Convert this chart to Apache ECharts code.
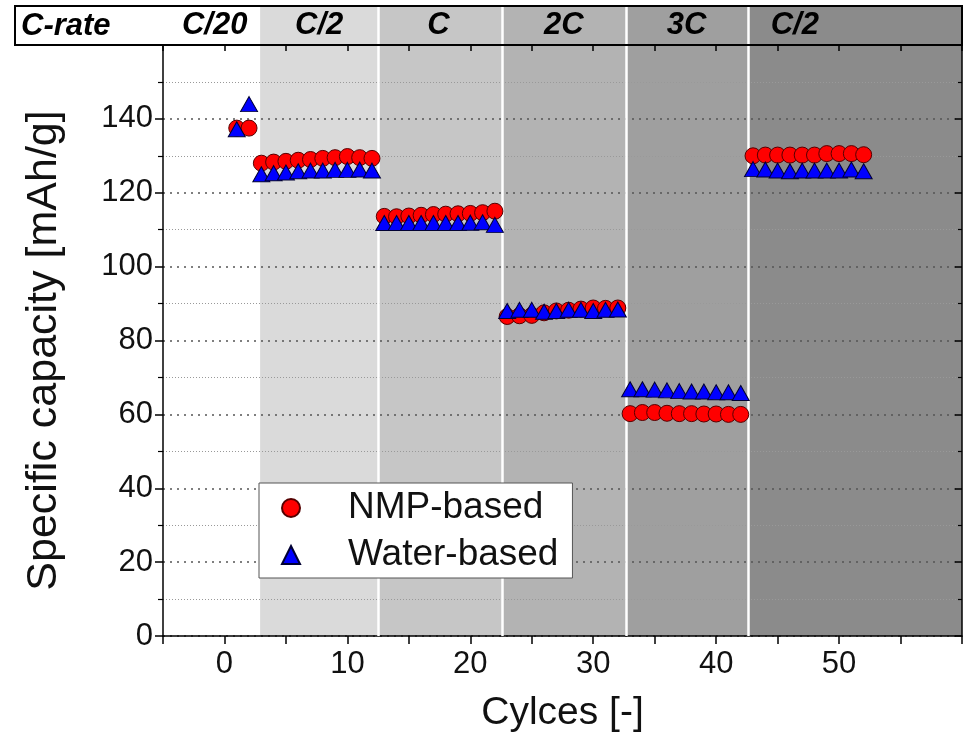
<!DOCTYPE html>
<html><head><meta charset="utf-8">
<script src="https://cdn.jsdelivr.net/npm/echarts@6/dist/echarts.min.js"></script>
<style>html,body{margin:0;padding:0;background:#fff}#c{width:966px;height:749px}</style>
</head><body><div id="c"></div>
<script>
const cycles = [1,2,3,4,5,6,7,8,9,10,11,12,13,14,15,16,17,18,19,20,21,22,23,24,25,26,27,28,29,30,31,32,33,34,35,36,37,38,39,40,41,42,43,44,45,46,47,48,49,50,51,52];
const nmpCapacity = [137.5,137.5,
  128.0,128.3,128.5,128.8,129.0,129.3,129.5,129.8,129.5,129.3,
  113.6,113.5,113.7,113.9,114.1,114.2,114.3,114.4,114.6,115.0,
  86.5,86.7,86.8,87.5,88.0,88.2,88.5,88.8,88.7,88.8,
  60.2,60.5,60.5,60.3,60.2,60.2,60.1,60.1,60.0,60.0,
  130.0,130.2,130.2,130.2,130.2,130.2,130.6,130.6,130.6,130.3];
const waterCapacity = [137.2,144.0,
  125.0,125.3,125.5,125.8,126.0,126.0,126.2,126.2,126.3,126.0,
  111.8,111.8,111.8,111.8,111.8,111.8,111.8,111.9,112.0,111.3,
  88.0,88.3,88.3,87.8,88.0,88.3,88.3,88.0,88.3,88.4,
  66.8,66.8,66.7,66.5,66.3,66.2,66.2,66.0,66.0,65.8,
  126.4,126.3,126.0,125.8,126.0,126.0,126.0,126.0,126.3,125.8];
const rateLabels = ['C/20','C/2','C','2C','3C','C/2'];
const rateLabelX = [-0.8, 7.7, 17.4, 27.6, 37.6, 46.4];
const bandEdges = [2.9, 12.5, 22.6, 32.7, 42.6, 60];
const bandColors = ['#dadada','#c6c6c6','#b3b3b3','#9f9f9f','#8b8b8b'];
const separators = [12.5, 22.6, 32.7, 42.6];

const FONT = "'Liberation Sans', Arial, sans-serif";
const NARROW = "'Liberation Sans Narrow', 'Liberation Sans', Arial";
const areas = bandColors.map((c,i)=>[{xAxis:bandEdges[i], itemStyle:{color:c}},{xAxis:bandEdges[i+1]}]);
const sepLines = separators.map(x=>({xAxis:x}));

const chart = echarts.init(document.getElementById('c'));
chart.setOption({
  animation:false,
  textStyle:{fontFamily:FONT},
  grid:[
    {left:163, right:4, top:45, bottom:113},
    {left:163, right:4, top:6, height:39}
  ],
  xAxis:[
    {gridIndex:0, type:'value', position:'bottom', min:-5, max:60, interval:5, z:1,
     axisLine:{onZero:false, lineStyle:{color:'#000', width:1.5}},
     axisTick:{length:8, lineStyle:{color:'#000', width:1.5}},
     axisLabel:{fontSize:31, color:'#111', margin:13, formatter:v=>(v%10===0 && v>=0 && v<=50)?String(v):''},
     splitLine:{show:false},
     name:'Cylces [-]', nameLocation:'middle', nameGap:58, nameTextStyle:{fontSize:39, color:'#111'}},
    {gridIndex:0, type:'value', position:'top', min:-5, max:60, interval:5, z:1,
     axisLine:{onZero:false, lineStyle:{color:'#000', width:1.5}},
     axisTick:{inside:true, length:6, lineStyle:{color:'#000', width:1.5}},
     axisLabel:{show:false}, splitLine:{show:false}},
    {gridIndex:1, type:'value', min:-5, max:60, show:false}
  ],
  yAxis:[
    {gridIndex:0, type:'value', position:'left', min:0, max:160, interval:20, z:1,
     axisLine:{show:true, onZero:false, lineStyle:{color:'#000', width:1.5}},
     axisTick:{show:true, length:8, lineStyle:{color:'#000', width:1.5}},
     minorTick:{show:true, splitNumber:2, length:5, lineStyle:{color:'#000', width:1.2}},
     axisLabel:{fontSize:31, color:'#111', margin:10, formatter:v=>v<=140?String(v):''},
     splitLine:{show:true, lineStyle:{color:'#555', width:1.7, type:[2,5]}},
     minorSplitLine:{show:true, lineStyle:{color:'#999', width:1, type:[1,2]}},
     name:'Specific capacity [mAh/g]', nameLocation:'middle', nameGap:97,
     nameTextStyle:{fontSize:43, color:'#111', padding:[0,20,0,0]}},
    {gridIndex:0, type:'value', position:'right', min:0, max:160, interval:20, z:1,
     axisLine:{show:true, onZero:false, lineStyle:{color:'#000', width:1.5}},
     axisTick:{show:true, inside:true, length:7, lineStyle:{color:'#000', width:1.5}},
     minorTick:{show:true, splitNumber:2, length:4, lineStyle:{color:'#000', width:1.2}},
     axisLabel:{show:false}, splitLine:{show:false}},
    {gridIndex:1, type:'value', min:0, max:1, show:false}
  ],
  legend:{
    data:['NMP-based','Water-based'], orient:'vertical', left:259, top:483,
    padding:[5,14,3,22], itemGap:7, itemWidth:18, itemHeight:18,
    backgroundColor:'#fff', borderColor:'#555', borderWidth:1, borderRadius:0,
    textStyle:{fontSize:37, color:'#111', padding:[0,0,0,43], lineHeight:40}
  },
  graphic:[
    {type:'rect', shape:{x:15, y:6, width:947, height:39}, style:{fill:null, stroke:'#000', lineWidth:2}, z:100},
    {type:'text', x:21, y:26, style:{text:'C-rate', font:"italic bold 31px " + NARROW, fill:'#000', textVerticalAlign:'middle'}, z:100}
  ],
  series:[
    {name:'bands', type:'line', xAxisIndex:0, yAxisIndex:0, data:[], silent:true, z:0,
     markArea:{silent:true, z:0.5, data:areas},
     markLine:{silent:true, z:1.5, symbol:'none', label:{show:false}, lineStyle:{color:'#fff', width:2.5, type:'solid'}, data:sepLines}},
    {name:'headerBands', type:'line', xAxisIndex:2, yAxisIndex:2, data:[], silent:true, z:0,
     markArea:{silent:true, z:0.5, data:areas},
     markLine:{silent:true, z:1.5, symbol:'none', label:{show:false}, lineStyle:{color:'#fff', width:2.5, type:'solid'}, data:sepLines}},
    {name:'headerLabels', type:'scatter', xAxisIndex:2, yAxisIndex:2, silent:true, z:10,
     symbol:'circle', symbolSize:0.1, itemStyle:{color:'#000', opacity:1},
     data:rateLabelX.map((x,i)=>[x,0.5,rateLabels[i]]),
     label:{show:true, position:'inside', formatter:p=>p.data[2], fontSize:31, fontStyle:'italic', fontWeight:'bold',
            fontFamily:NARROW, color:'#000', opacity:1, textBorderWidth:0, textBorderColor:'transparent'}},
    {name:'NMP-based', type:'scatter', xAxisIndex:0, yAxisIndex:0, z:2,
     symbol:'circle', symbolSize:16,
     itemStyle:{color:'#ff0000', opacity:1, borderColor:'#550000', borderWidth:1},
     data:cycles.map((c,i)=>[c,nmpCapacity[i]])},
    {name:'Water-based', type:'scatter', xAxisIndex:0, yAxisIndex:0, z:3,
     symbol:'triangle', symbolSize:[17,15],
     itemStyle:{color:'#0000ff', opacity:1, borderColor:'#000033', borderWidth:1},
     data:cycles.map((c,i)=>[c,waterCapacity[i]])}
  ]
});
</script></body></html>
